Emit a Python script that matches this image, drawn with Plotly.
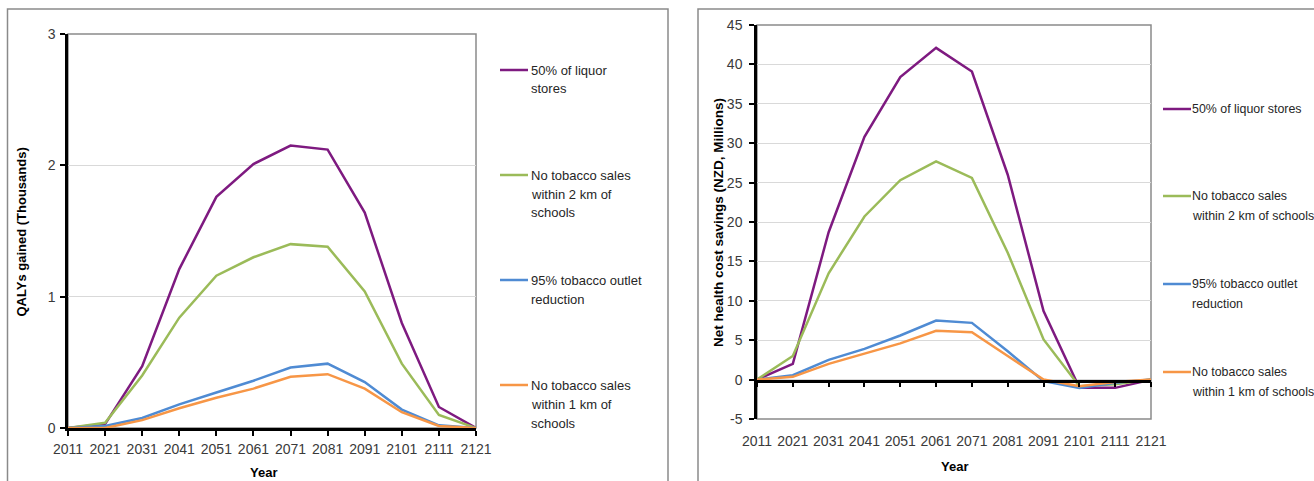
import plotly.graph_objects as go

W, H = 1314, 481

years = [2011, 2021, 2031, 2041, 2051, 2061, 2071, 2081, 2091, 2101, 2111, 2121]

series_names = [
    "50% of liquor stores",
    "No tobacco sales within 2 km of schools",
    "95% tobacco outlet reduction",
    "No tobacco sales within 1 km of schools",
]
series_colors = ["#7E1A80", "#9BBB59", "#4F8BD3", "#F79646"]

# QALYs gained (thousands)
qaly_liquor = [0, 0.03, 0.47, 1.21, 1.76, 2.01, 2.15, 2.12, 1.64, 0.80, 0.16, 0]
qaly_2km = [0, 0.04, 0.40, 0.84, 1.16, 1.30, 1.40, 1.38, 1.04, 0.49, 0.10, 0]
qaly_95 = [0, 0.015, 0.076, 0.18, 0.27, 0.36, 0.46, 0.49, 0.35, 0.14, 0.02, 0]
qaly_1km = [0, 0.0, 0.06, 0.15, 0.23, 0.30, 0.39, 0.41, 0.30, 0.12, 0.015, 0]

# Net health cost savings (NZD, millions)
cost_liquor = [0, 2.0, 18.7, 30.8, 38.4, 42.1, 39.1, 26.0, 8.7, -1.05, -1.05, 0]
cost_2km = [0, 3.0, 13.5, 20.7, 25.3, 27.7, 25.6, 16.1, 5.1, -0.85, -0.6, 0]
cost_95 = [0, 0.55, 2.5, 3.9, 5.6, 7.5, 7.2, 3.6, -0.2, -1.05, -0.4, 0]
cost_1km = [0, 0.35, 2.0, 3.3, 4.6, 6.2, 6.0, 3.0, 0.0, -0.85, -0.3, 0]

qaly_ticks = [0, 1, 2, 3]
cost_ticks = [-5, 0, 5, 10, 15, 20, 25, 30, 35, 40, 45]
cost_tick_text = ["-5", "0", "5", "10", "15", "20", "25", "30", "35", "40", "45"]

# legend wording, wrapped per panel
legend_left = [
    ["50% of liquor", "stores"],
    ["No tobacco sales", "within 2 km of", "schools"],
    ["95% tobacco outlet", "reduction"],
    ["No tobacco sales", "within 1 km of", "schools"],
]
legend_right = [
    ["50% of liquor stores"],
    ["No tobacco sales", "within 2 km of schools"],
    ["95% tobacco outlet", "reduction"],
    ["No tobacco sales", "within 1 km of schools"],
]

left_title = "QALYs gained (Thousands)"
right_title = "Net health cost savings (NZD, Millions)"
x_title = "Year"

FONT = "Liberation Sans, Arial, sans-serif"
TXT = "#3a3a3a"
FRAME = "#8a8a8a"
GRID = "#d9d9d9"


def px(x):
    return x / W


def py(y):
    return 1 - y / H


fig = go.Figure()

for vals, name, col in zip([qaly_liquor, qaly_2km, qaly_95, qaly_1km], series_names, series_colors):
    fig.add_trace(go.Scatter(x=years, y=vals, mode="lines", name=name,
                             line=dict(color=col, width=2.5), xaxis="x", yaxis="y",
                             showlegend=False))
for vals, name, col in zip([cost_liquor, cost_2km, cost_95, cost_1km], series_names, series_colors):
    fig.add_trace(go.Scatter(x=years, y=vals, mode="lines", name=name,
                             line=dict(color=col, width=2.5), xaxis="x2", yaxis="y2",
                             showlegend=False))
# carrier trace so the zero-crossing axis of the right panel is drawn
fig.add_trace(go.Scatter(x=[years[0]], y=[0], mode="markers", marker=dict(opacity=0),
                         xaxis="x3", yaxis="y2", showlegend=False, hoverinfo="skip"))

tick_font = dict(family=FONT, size=14, color=TXT)

left_dom_x = [px(68), px(476)]
left_dom_y = [py(428), py(34)]
right_dom_x = [px(757), px(1151)]
right_dom_y = [py(419), py(25)]

common = dict(automargin=False, tickangle=0, zeroline=False)

fig.update_layout(
    width=W, height=H,
    margin=dict(l=0, r=0, t=0, b=0, autoexpand=False),
    paper_bgcolor="white", plot_bgcolor="white",
    showlegend=False,
    xaxis=dict(domain=left_dom_x, range=[2011, 2121], tickvals=years,
               ticks="outside", ticklen=5, tickwidth=1.5, tickcolor="black",
               ticklabelstandoff=1,
               showline=True, linecolor="black", linewidth=2.5,
               showgrid=False, tickfont=tick_font, anchor="y", **common),
    yaxis=dict(domain=left_dom_y, range=[0, 3], tickvals=qaly_ticks,
               ticks="outside", ticklen=5, tickwidth=1.5, tickcolor="black",
               ticklabelstandoff=2,
               showline=True, linecolor="black", linewidth=2.5,
               showgrid=True, gridcolor=GRID, gridwidth=1,
               tickfont=tick_font, anchor="x", **common),
    xaxis2=dict(domain=right_dom_x, range=[2011, 2121], tickvals=years,
                ticks="outside", ticklen=5, tickcolor="rgba(0,0,0,0)",
                ticklabelstandoff=4,
                showline=False, showgrid=False,
                tickfont=tick_font, anchor="y2", **common),
    xaxis3=dict(domain=right_dom_x, range=[2011, 2121], tickvals=years,
                overlaying="x2", anchor="free", position=py(380.5),
                ticks="outside", ticklen=5, tickwidth=1.5, tickcolor="black",
                showline=True, linecolor="black", linewidth=2.5,
                showticklabels=False, showgrid=False, **common),
    yaxis2=dict(domain=right_dom_y, range=[-5, 45], tickvals=cost_ticks,
                ticktext=cost_tick_text,
                ticks="outside", ticklen=5, tickwidth=1.5, tickcolor="black",
                ticklabelstandoff=4,
                showline=True, linecolor="black", linewidth=2.5,
                showgrid=True, gridcolor=GRID, gridwidth=1,
                tickfont=tick_font, anchor="x2", **common),
)

shapes = []
# panel frames
shapes.append(dict(type="rect", xref="paper", yref="paper",
                   x0=px(7.5), x1=px(668), y0=py(500), y1=py(9),
                   line=dict(color=FRAME, width=1.5), layer="below"))
shapes.append(dict(type="rect", xref="paper", yref="paper",
                   x0=px(698), x1=px(1340), y0=py(500), y1=py(9),
                   line=dict(color=FRAME, width=1.5), layer="below"))
# plot-area borders
shapes.append(dict(type="rect", xref="x domain", yref="y domain", x0=0, x1=1, y0=0, y1=1,
                   line=dict(color=FRAME, width=1.5), layer="below"))
shapes.append(dict(type="rect", xref="x2 domain", yref="y2 domain", x0=0, x1=1, y0=0, y1=1,
                   line=dict(color=FRAME, width=1.5), layer="below"))

annotations = []


def add_legend(items, line_x0, line_x1, text_x, item_ys, line_gap, size):
    font = dict(family=FONT, size=size, color="#262626")
    for lines, col, y0 in zip(items, series_colors, item_ys):
        shapes.append(dict(type="line", xref="paper", yref="paper",
                           x0=px(line_x0), x1=px(line_x1), y0=py(y0), y1=py(y0),
                           line=dict(color=col, width=2.5)))
        for i, t in enumerate(lines):
            annotations.append(dict(text=t, xref="paper", yref="paper",
                                    x=px(text_x), y=py(y0 + i * line_gap),
                                    xanchor="left", yanchor="middle", showarrow=False,
                                    font=font))


add_legend(legend_left, 500, 528, 529, [70, 175, 280, 385], 19, 13)
add_legend(legend_right, 1163, 1191, 1190, [109, 196, 284, 372], 20, 12.4)

title_font = dict(family=FONT, size=13, color="black")
annotations.append(dict(text="<b>%s</b>" % left_title, xref="paper", yref="paper",
                        x=px(20.5), y=py(232), textangle=-90, showarrow=False,
                        xanchor="center", yanchor="middle", font=title_font))
annotations.append(dict(text="<b>%s</b>" % right_title, xref="paper", yref="paper",
                        x=px(718), y=py(223), textangle=-90, showarrow=False,
                        xanchor="center", yanchor="middle",
                        font=dict(family=FONT, size=13.5, color="black")))
annotations.append(dict(text="<b>%s</b>" % x_title, xref="paper", yref="paper",
                        x=px(263), y=py(472), showarrow=False,
                        xanchor="center", yanchor="middle", font=title_font))
annotations.append(dict(text="<b>%s</b>" % x_title, xref="paper", yref="paper",
                        x=px(954), y=py(466), showarrow=False,
                        xanchor="center", yanchor="middle", font=title_font))

fig.update_layout(shapes=shapes, annotations=annotations)

fig.write_html("out.html")
